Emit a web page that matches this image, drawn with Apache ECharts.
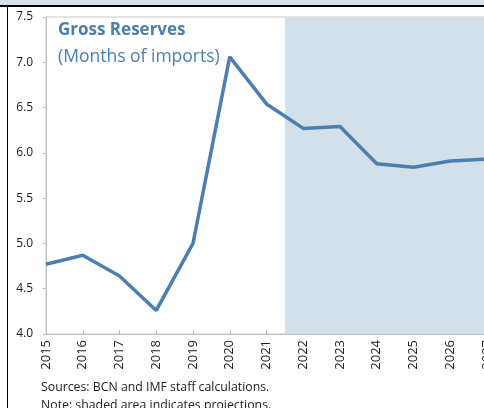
<!DOCTYPE html>
<html><head><meta charset="utf-8">
<script src="https://cdn.jsdelivr.net/npm/echarts@6/dist/echarts.min.js"></script>
<style>html,body{margin:0;padding:0;background:#fff}#c{width:484px;height:408px}</style>
</head><body><div id="c"></div>
<script>
const years = [2015,2016,2017,2018,2019,2020,2021,2022,2023,2024,2025,2026,2027];
const reserves = [4.77,4.87,4.64,4.26,5.00,7.06,6.54,6.27,6.29,5.88,5.84,5.91,5.93];
const yTicks = [4.0,4.5,5.0,5.5,6.0,6.5,7.0,7.5];
const projStart = 2021.5;
const projEnd = 2027;
const titleText = 'Gross Reserves';
const subtitleText = '(Months of imports)';
const notes = ['Sources: BCN and IMF staff calculations.','Note: shaded area indicates projections.'];

const FONT = '"Open Sans", "Noto Sans", sans-serif';
const chart = echarts.init(document.getElementById('c'));
chart.setOption({
  animation:false,
  grid:{left:46, right:-3, top:17, bottom:74, show:true, borderColor:'#c8c8c8', borderWidth:1, outerBoundsMode:'none', containLabel:false},
  xAxis:{type:'value', min:years[0], max:years[years.length-1], interval:1,
    axisLine:{show:true, lineStyle:{color:'#bfbfbf'}},
    axisTick:{show:true, inside:true, length:4, lineStyle:{color:'#bfbfbf'}},
    splitLine:{show:false},
    axisLabel:{rotate:90, margin:6, color:'#222', fontSize:13, fontFamily:FONT, formatter:v=>String(v), showMaxLabel:true, hideOverlap:false}},
  yAxis:{type:'value', min:yTicks[0], max:yTicks[yTicks.length-1], interval:0.5,
    axisLine:{show:true, lineStyle:{color:'#bfbfbf'}},
    axisTick:{show:true, length:3, lineStyle:{color:'#bfbfbf'}},
    splitLine:{show:false},
    axisLabel:{margin:13, color:'#222', fontSize:12, fontFamily:FONT, formatter:v=>v.toFixed(1)}},
  series:[{type:'line', data:years.map((y,i)=>[y,reserves[i]]), symbol:'none',
    lineStyle:{color:'#4a7fb0', width:3.5}, z:3,
    markArea:{silent:true, itemStyle:{color:'#d3e0ea'}, data:[[{xAxis:projStart},{xAxis:projEnd}]]}}],
  graphic:[
    {type:'rect', shape:{x:0,y:0,width:484,height:5}, style:{fill:'#d6e1ea'}},
    {type:'rect', shape:{x:0,y:5,width:484,height:2}, style:{fill:'#000'}},
    {type:'rect', shape:{x:7,y:7,width:1,height:401}, style:{fill:'#000'}},
    {type:'text', left:58, top:22, style:{text:titleText, fill:'#4a7fb0', font:'bold 17px '+FONT}},
    {type:'text', left:58, top:48, style:{text:subtitleText, fill:'#4a7fb0', font:'17.5px '+FONT}},
    {type:'text', left:41, top:381, style:{text:notes[0], fill:'#222', font:'12.3px '+FONT}},
    {type:'text', left:41, top:399, style:{text:notes[1], fill:'#222', font:'12.3px '+FONT}}
  ]
});
</script></body></html>
